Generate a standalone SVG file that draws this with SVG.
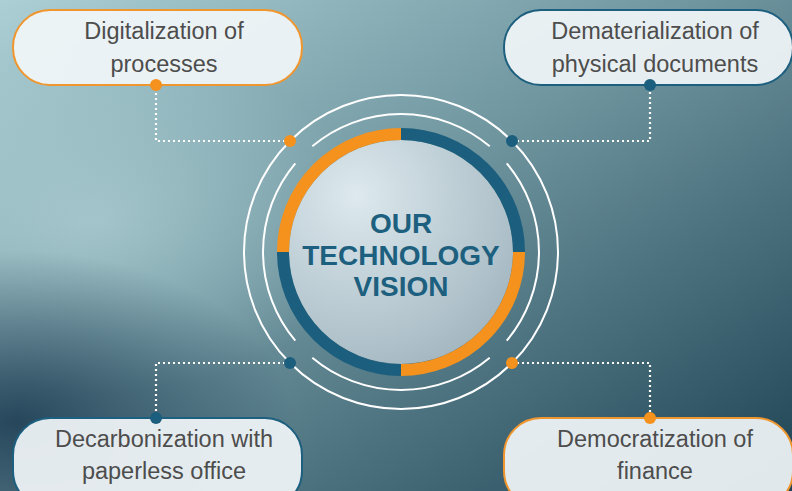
<svg xmlns="http://www.w3.org/2000/svg" width="792" height="491" viewBox="0 0 792 491">
  <defs>
    <linearGradient id="bg" x1="0" y1="0" x2="1" y2="1">
      <stop offset="0" stop-color="#abcfd4"/>
      <stop offset="0.45" stop-color="#6f959f"/>
      <stop offset="1" stop-color="#1e4354"/>
    </linearGradient>
    <radialGradient id="darkBL" cx="0.02" cy="0.86" r="0.35">
      <stop offset="0" stop-color="#14324a" stop-opacity="0.8"/>
      <stop offset="1" stop-color="#14324a" stop-opacity="0"/>
    </radialGradient>
    <radialGradient id="lightL" cx="0.12" cy="0.45" r="0.35">
      <stop offset="0" stop-color="#b6d6da" stop-opacity="0.6"/>
      <stop offset="1" stop-color="#b6d6da" stop-opacity="0"/>
    </radialGradient>
    <radialGradient id="inner" cx="0.3" cy="0.25" r="0.9">
      <stop offset="0" stop-color="#dde9ee"/>
      <stop offset="1" stop-color="#9fb3bd"/>
    </radialGradient>
    <style>
      .box { fill: #f2f6f8; fill-opacity: 0.92; stroke-width: 2; }
      .or { stroke: #f0962e; }
      .bl { stroke: #1d5f7e; }
      .lbl { font-family: "Liberation Sans", Arial, sans-serif; font-size: 23.5px; fill: #4d4d4d; text-anchor: middle; }
      .title { font-family: "Liberation Sans", Arial, sans-serif; font-size: 28px; font-weight: bold; fill: #1d5f7e; text-anchor: middle; }
      .wl { fill: none; stroke: #ffffff; stroke-width: 2; }
      .dot { fill: none; stroke: #ffffff; stroke-width: 2.2; stroke-dasharray: 2 3; }
      .ring { fill: none; stroke-width: 12; }
      .dO { fill: #f5921e; }
      .dB { fill: #1b5e7d; }
    </style>
  </defs>

  <rect width="792" height="491" fill="url(#bg)"/>
  <rect width="792" height="491" fill="url(#lightL)"/>
  <rect width="792" height="491" fill="url(#darkBL)"/>

  <g id="connectors">
    <polyline class="dot" points="290,141 156,141 156,85"/>
    <polyline class="dot" points="512,141 650,141 650,85"/>
    <polyline class="dot" points="290,363 156,363 156,418"/>
    <polyline class="dot" points="512,363 650,363 650,418"/>
  </g>

  <g id="center">
    <circle class="wl" cx="401" cy="252" r="157"/>
    <path class="wl" d="M312.3,146.3 A138,138 0 0 1 489.7,146.3"/>
    <path class="wl" d="M506.7,163.3 A138,138 0 0 1 506.7,340.7"/>
    <path class="wl" d="M489.7,357.7 A138,138 0 0 1 312.3,357.7"/>
    <path class="wl" d="M295.3,340.7 A138,138 0 0 1 295.3,163.3"/>
    <circle cx="401" cy="252" r="112" fill="url(#inner)"/>
    <path class="ring" stroke="#f5921e" d="M401,134 A118,118 0 0 0 283,252"/>
    <path class="ring" stroke="#1b5e7d" d="M401,134 A118,118 0 0 1 519,252"/>
    <path class="ring" stroke="#f5921e" d="M519,252 A118,118 0 0 1 401,370"/>
    <path class="ring" stroke="#1b5e7d" d="M401,370 A118,118 0 0 1 283,252"/>
    <text class="title" x="401" y="233">OUR</text>
    <text class="title" x="401" y="265">TECHNOLOGY</text>
    <text class="title" x="401" y="296">VISION</text>
    <circle class="dO" cx="290" cy="141" r="6"/>
    <circle class="dB" cx="512" cy="141" r="6"/>
    <circle class="dB" cx="290" cy="363" r="6"/>
    <circle class="dO" cx="512" cy="363" r="6"/>
  </g>

  <g id="node-digitalization">
    <rect class="box or" x="13" y="10" width="289" height="75" rx="37"/>
    <text class="lbl" x="164" y="39">Digitalization of</text>
    <text class="lbl" x="164" y="72">processes</text>
    <circle class="dO" cx="156" cy="85" r="6"/>
  </g>

  <g id="node-dematerialization">
    <rect class="box bl" x="504" y="10" width="289" height="75" rx="37"/>
    <text class="lbl" x="655" y="39">Dematerialization of</text>
    <text class="lbl" x="655" y="72">physical documents</text>
    <circle class="dB" cx="650" cy="85" r="6"/>
  </g>

  <g id="node-decarbonization">
    <rect class="box bl" x="13" y="418" width="289" height="90" rx="37"/>
    <text class="lbl" x="164" y="447">Decarbonization with</text>
    <text class="lbl" x="164" y="479">paperless office</text>
    <circle class="dB" cx="156" cy="418" r="6"/>
  </g>

  <g id="node-democratization">
    <rect class="box or" x="504" y="418" width="289" height="90" rx="37"/>
    <text class="lbl" x="655" y="447">Democratization of</text>
    <text class="lbl" x="655" y="479">finance</text>
    <circle class="dO" cx="650" cy="418" r="6"/>
  </g>
</svg>
